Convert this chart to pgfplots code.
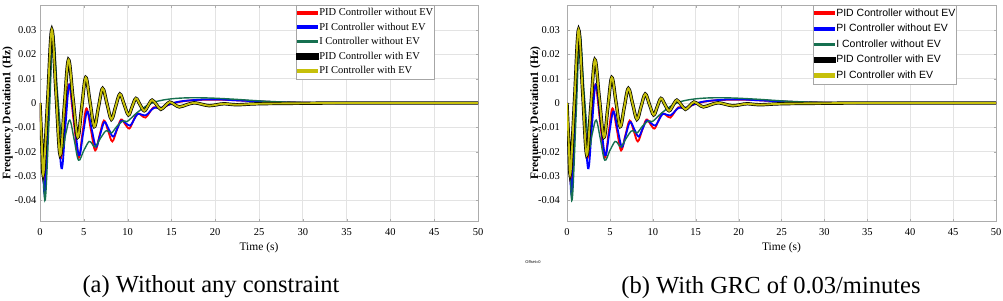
\documentclass[border=0pt]{standalone}
\usepackage{pgfplots}
\pgfplotsset{compat=1.18}
\usepackage{pgfplotstable}
\usepackage{fontspec}
\setmainfont{Liberation Serif}
\newfontfamily\arialfont{Liberation Sans}

\definecolor{cred}{rgb}{1,0,0}
\definecolor{cblue}{rgb}{0,0,1}
\definecolor{cgreen}{RGB}{22,112,80}
\definecolor{cyel}{RGB}{198,192,10}

\pgfplotstableread{
t v
0 0
0.25 -0.018
0.5 -0.033
0.92 -0.002
1.35 0.029
1.85 0.0035
2.35 -0.0225
2.82 -0.0075
3.3 0.0075
3.85 -0.0075
4.4 -0.0225
4.85 -0.0123
5.3 -0.0022
5.8 -0.0108
6.3 -0.0195
6.8 -0.0133
7.3 -0.0072
7.78 -0.0115
8.25 -0.0158
8.75 -0.0113
9.25 -0.0068
9.72 -0.0087
10.2 -0.0105
10.65 -0.0073
11.1 -0.0042
11.57 -0.0051
12.05 -0.006
12.5 -0.0039
12.95 -0.0018
13.42 -0.002
13.9 -0.0022
15 -0.0003
17 0.0010
20 0.0014
23 0.0010
26 0.0005
30 0.0001
35 0
50 0
}\redtab

\pgfplotstableread{
t v
0 0
0.27 -0.02
0.55 -0.037
0.97 -0.0035
1.4 0.03
1.92 0.0016
2.45 -0.0268
2.9 -0.0096
3.35 0.0075
3.9 -0.007
4.45 -0.0215
4.92 -0.0125
5.4 -0.0035
5.9 -0.0108
6.4 -0.018
6.87 -0.0129
7.35 -0.0078
7.85 -0.0108
8.35 -0.0138
8.82 -0.0105
9.3 -0.0072
9.8 -0.0083
10.3 -0.0093
10.72 -0.0069
11.15 -0.0045
11.62 -0.0048
12.1 -0.005
12.55 -0.0035
13 -0.002
13.47 -0.0019
13.95 -0.0018
15.5 0.0003
17.5 0.0012
20 0.0015
23 0.0010
26 0.0005
30 0.0001
35 0
50 0
}\bluetab

\pgfplotstableread{
t v
0 0
0.3 -0.022
0.6 -0.0398
1.05 -0.006
1.5 0.028
2.0 0.004
2.55 -0.0175
2.95 -0.0125
3.4 -0.007
3.9 -0.015
4.4 -0.0235
5.0 -0.0195
5.6 -0.0158
5.95 -0.0168
6.3 -0.018
6.9 -0.0145
7.5 -0.0115
7.85 -0.0118
8.2 -0.0122
8.8 -0.0095
9.4 -0.0075
9.7 -0.0074
10 -0.0075
11 -0.0042
12 -0.0015
13 0.0003
14.5 0.0015
16.5 0.0021
19 0.0021
22 0.0016
25 0.0009
28 0.0004
32 0.0001
36 0
50 0
}\greentab

\pgfplotstableread{
t v
0 0
0.2 -0.016
0.4 -0.029
0.87 0.001
1.35 0.0302
1.82 0.0045
2.3 -0.0214
2.77 -0.0017
3.25 0.0178
3.77 0.002
4.3 -0.0141
4.76 -0.0018
5.22 0.0105
5.71 0.0004
6.2 -0.0097
6.67 -0.0018
7.15 0.006
7.65 -0.0003
8.15 -0.0067
8.63 -0.0015
9.12 0.0037
9.61 -0.0006
10.1 -0.0049
10.52 -0.0015
10.95 0.0019
11.42 -0.0007
11.9 -0.0032
12.35 -0.001
12.8 0.0012
13.3 -0.0007
13.8 -0.0026
14.3 -0.0011
14.8 0.0004
15.35 -0.0006
15.9 -0.0016
16.75 -0.0007
17.6 0.0001
18.45 -0.0005
19.3 -0.0011
20.2 -0.0007
21 -0.0003
22.5 -0.0007
25 -0.0003
30 -0.0001
35 0
50 0
}\evtab

\pgfplotsset{
  myaxis/.style={
    scale only axis,
    height=216pt,
    xmin=0, xmax=50, ymin=-0.0485, ymax=0.0403,
    xtick={0,5,...,50},
    ytick={-0.04,-0.03,-0.02,-0.01,0,0.01,0.02,0.03},
    yticklabels={-0.04,-0.03,-0.02,-0.01,0,0.01,0.02,0.03},
    /pgf/number format/assume math mode=true,
    grid=major,
    grid style={gray!22, line width=0.7pt},
    axis line style={gray!65, line width=0.7pt},
    tick align=inside,
    major tick length=2.5pt,
    tick style={gray!65},
    ticklabel style={font=\fontsize{10.5}{12}\selectfont},
    xticklabel style={yshift=-4pt},
    xlabel={Time (s)},
    xlabel style={at={(axis description cs:0.5,-0.125)}, anchor=center, font=\fontsize{11.5}{13}\selectfont},
    ylabel={Frequency Deviation1 (Hz)},
    ylabel style={at={(axis description cs:-0.074,0.5)}, anchor=center, font=\bfseries\fontsize{11.5}{13}\selectfont},
    legend cell align=left,
  },
  curves/.style={smooth, tension=0.6},
  lgred/.style={legend image code/.code={\fill[cred] (0pt,-1.1pt) rectangle (19pt,1.1pt);}},
  lgblue/.style={legend image code/.code={\fill[cblue] (0pt,-1.1pt) rectangle (19pt,1.1pt);}},
  lggreen/.style={legend image code/.code={\fill[cgreen] (0pt,-0.8pt) rectangle (19pt,0.8pt);}},
  lgblack/.style={legend image code/.code={\fill[black] (0pt,-1.8pt) rectangle (19pt,1.8pt);}},
  lgyel/.style={legend image code/.code={\fill[cyel] (0pt,-1.4pt) rectangle (19pt,1.4pt);}},
}

\begin{document}
\begin{tikzpicture}
\path[use as bounding box] (0,0) rectangle (1003pt,300pt);

\begin{axis}[myaxis, width=438pt, at={(40pt,79pt)}, anchor=south west,
  legend style={at={(rel axis cs:0.584,1)}, anchor=north west, draw=gray!70,
    font=\fontsize{10.5}{12}\selectfont, inner sep=0.5pt, row sep=0pt,
    nodes={inner xsep=0.5pt, inner ysep=1.5pt, text height=8.3pt, text depth=3.2pt}},
]
\addplot[cred, line width=1.8pt, curves, lgred] table[x=t,y=v] {\redtab};
\addlegendentry{PID Controller without EV}
\addplot[cblue, line width=1.8pt, curves, lgblue] table[x=t,y=v] {\bluetab};
\addlegendentry{PI Controller without EV}
\addplot[cgreen, line width=1.4pt, curves, lggreen] table[x=t,y=v] {\greentab};
\addlegendentry{I Controller without EV}
\addplot[black, line width=3.3pt, curves, lgblack] table[x=t,y=v] {\evtab};
\addlegendentry{PID Controller with EV}
\addplot[cyel, line width=1.9pt, curves, lgyel] table[x=t,y=v] {\evtab};
\addlegendentry{PI Controller with EV}
\end{axis}

\begin{axis}[myaxis, width=429pt, at={(567pt,79pt)}, anchor=south west,
  yticklabel style={xshift=-3.5pt},
  legend style={at={(rel axis cs:0.573,1)}, anchor=north west, draw=gray!70,
    font=\arialfont\fontsize{10.5}{12}\selectfont, inner sep=0.5pt, row sep=0pt,
    nodes={inner xsep=0.5pt, inner ysep=1.5pt, text height=9pt, text depth=3.5pt}},
]
\addplot[cred, line width=1.8pt, curves, lgred] table[x=t,y=v] {\redtab};
\addlegendentry{PID Controller without EV}
\addplot[cblue, line width=1.8pt, curves, lgblue] table[x=t,y=v] {\bluetab};
\addlegendentry{PI Controller without EV}
\addplot[cgreen, line width=1.4pt, curves, lggreen] table[x=t,y=v] {\greentab};
\addlegendentry{I Controller without EV}
\addplot[black, line width=3.3pt, curves, lgblack] table[x=t,y=v] {\evtab};
\addlegendentry{PID Controller with EV}
\addplot[cyel, line width=1.9pt, curves, lgyel] table[x=t,y=v] {\evtab};
\addlegendentry{PI Controller with EV}
\end{axis}

\node[font=\fontsize{24.5}{28}\selectfont] at (211pt,13pt) {(a) Without any constraint};
\node[font=\fontsize{24.5}{28}\selectfont] at (771pt,13pt) {(b) With GRC of 0.03/minutes};
\node[font=\arialfont\fontsize{4}{5}\selectfont] at (533pt,38pt) {Offset=0};
\end{tikzpicture}
\end{document}
